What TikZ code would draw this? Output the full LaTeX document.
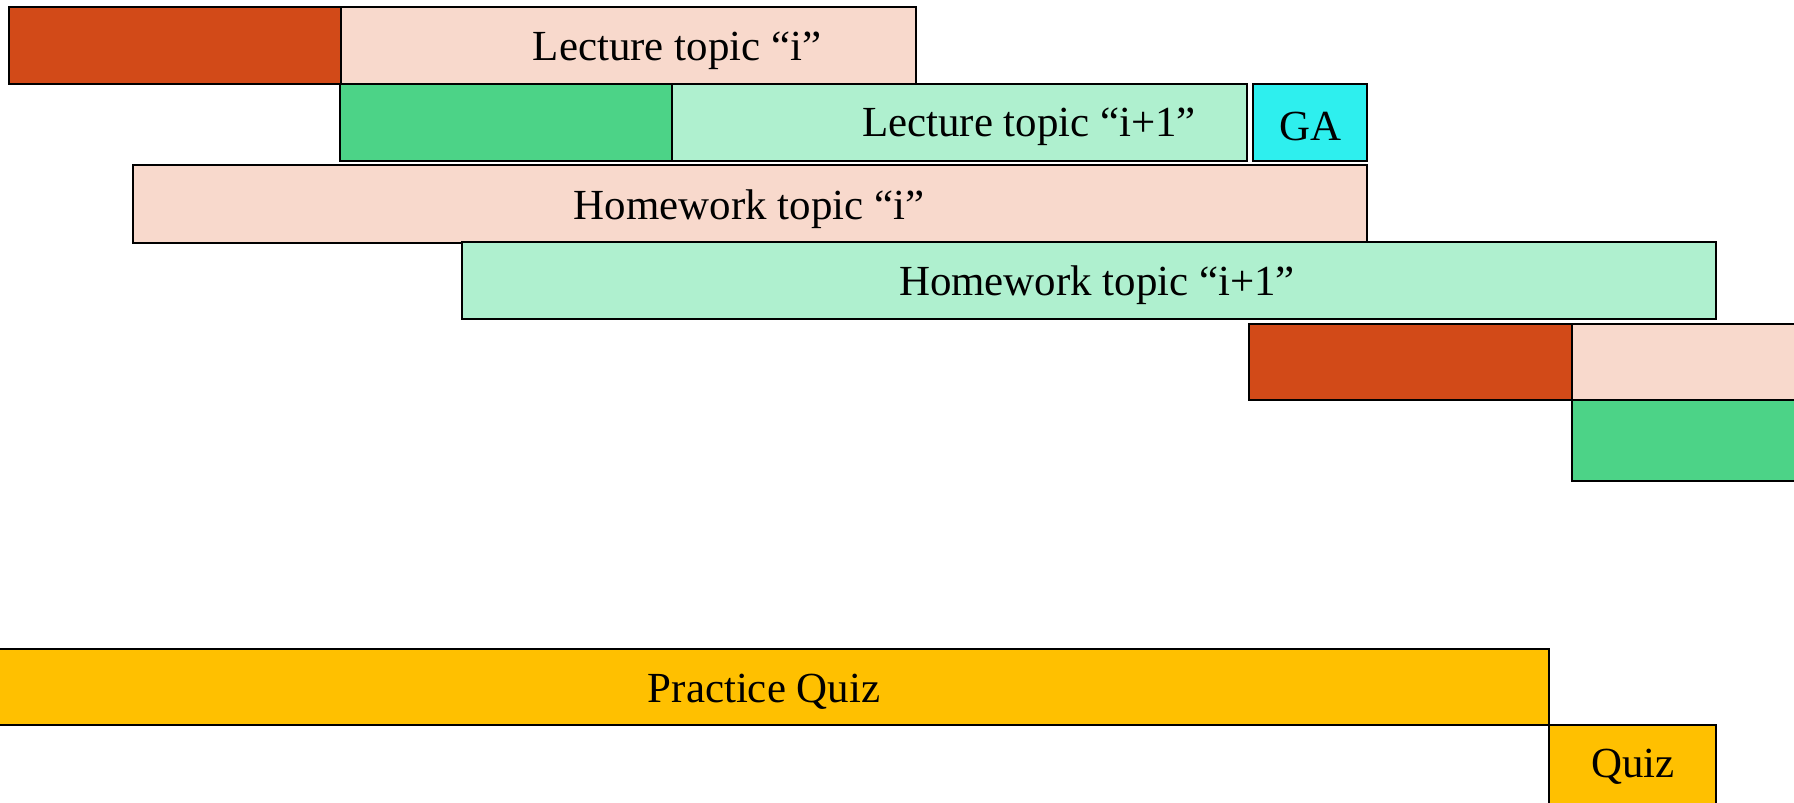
\documentclass[tikz,border=0pt]{standalone}
\usepackage{fontspec}
\setmainfont{Liberation Serif}
\usepackage{tikz}

\definecolor{topred}{HTML}{D24A18}
\definecolor{topsalmon}{HTML}{F8D9CC}
\definecolor{topgreen}{HTML}{4CD387}
\definecolor{toplight}{HTML}{AFF0CF}
\definecolor{gacyan}{HTML}{2EEFEE}
\definecolor{quizgold}{HTML}{FFC000}

\tikzset{
  bar/.style={draw=black,line width=0.6pt,line join=miter},
  thickbar/.style={draw=black,line width=0.75pt,line join=miter},
  txt/.style={font=\fontsize{12.2}{14}\selectfont,inner sep=0pt}
}

\begin{document}
\begin{tikzpicture}[x=0.01cm,y=-0.01cm]
\useasboundingbox (0,0) rectangle (1794,802);
\clip (0,0) rectangle (1794,802);
% lecture row i
\draw[bar,fill=topsalmon] (341,7) rectangle (916,84);
\draw[thickbar,fill=topred] (9,7) rectangle (341,84);
% lecture row i+1
\draw[bar,fill=toplight] (672,84) rectangle (1247,161);
\draw[thickbar,fill=topgreen] (340,84) rectangle (672,161);
\draw[thickbar,fill=gacyan] (1253,84) rectangle (1367,161);
% homework rows
\draw[bar,fill=topsalmon] (133,165) rectangle (1367,243);
\draw[bar,fill=toplight] (462,242) rectangle (1716,319);
% next cycle
\draw[bar,fill=topsalmon] (1572,324) rectangle (1810,400);
\draw[thickbar,fill=topred] (1249,324) rectangle (1572,400);
\draw[bar,fill=topgreen] (1572,400) rectangle (1810,481);
% quizzes
\draw[bar,fill=quizgold] (-5,649) rectangle (1549,725);
\draw[bar,fill=quizgold] (1549,725) rectangle (1716,815);

\node[txt] (lecI) at (677,51) {Lecture topic “i”};
\node[txt] (lecJ) at (1029,127) {Lecture topic “i+1”};
\node[txt] (ga) at (1310,126) {GA};
\node[txt] (hwI) at (749,209) {Homework topic “i”};
\node[txt] (hwJ) at (1097,285) {Homework topic “i+1”};
\node[txt] (pq) at (764,692) {Practice Quiz};
\node[txt] (quiz) at (1633,767) {Quiz};
\end{tikzpicture}
\end{document}
